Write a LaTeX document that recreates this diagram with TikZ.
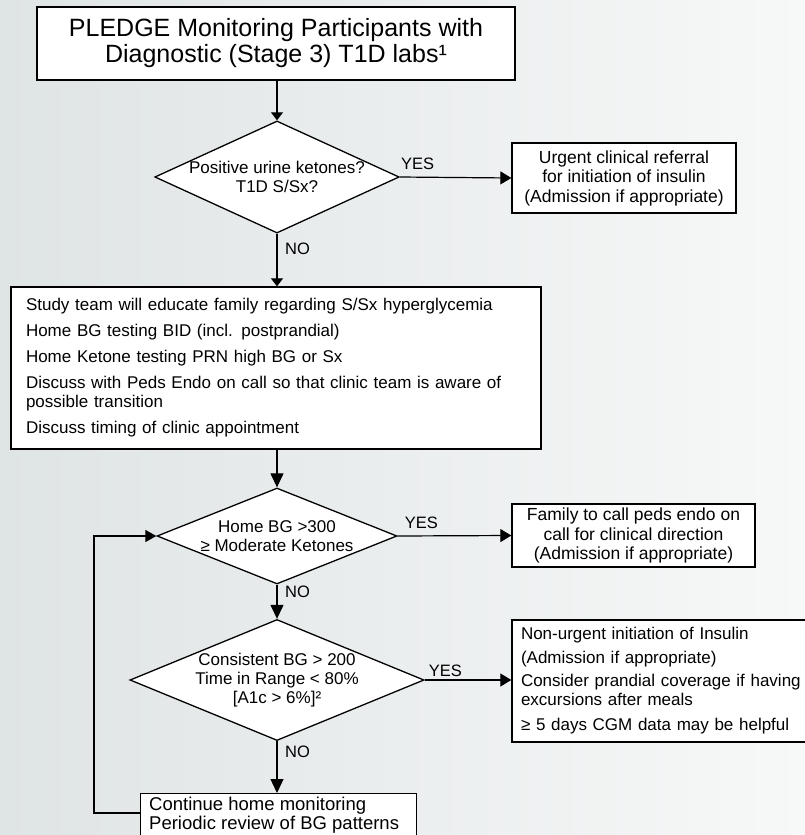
\documentclass[tikz,border=0pt]{standalone}
\usepackage{fontspec}
\setmainfont{Liberation Sans}
\usetikzlibrary{shapes.geometric,arrows.meta,calc}

\definecolor{bgleft}{RGB}{223,228,229}
\definecolor{bgright}{RGB}{247,248,248}

\tikzset{
  box/.style={draw=black, line width=1.3pt, fill=white, rectangle, inner sep=0pt},
  decision/.style={draw=black, line width=1.3pt, fill=white, diamond, inner sep=0pt,
    align=center, font=\fontsize{17}{19}\selectfont},
  bodytext/.style={font=\fontsize{17}{19}\selectfont},
  boxtext/.style={font=\fontsize{17.5}{19.5}\selectfont},
  lbl/.style={font=\fontsize{16.5}{18}\selectfont, inner sep=0pt},
  conn/.style={line width=1.2pt},
  arrsmall/.style={conn, -{Triangle[length=8pt,width=12pt]}},
  arryes/.style={conn, -{Triangle[length=11pt,width=13pt]}},
  arrbig/.style={conn, -{Triangle[length=14pt,width=13pt]}},
  arrloop/.style={conn, -{Triangle[length=11pt,width=12pt]}},
}

\begin{document}
\begin{tikzpicture}[x=1pt,y=-1pt]
  % page area and soft background
  \useasboundingbox (0,0) rectangle (805,835);
  \clip (0,0) rectangle (805,835);
  \shade[left color=bgleft, right color=bgright] (0,0) rectangle (805,835);

  % title box
  \node[box, minimum width=478pt, minimum height=73pt, align=center,
        font=\fontsize{25}{26}\selectfont] (start) at (276,43.5)
    {PLEDGE Monitoring Participants with\\Diagnostic (Stage 3) T1D labs¹};

  % first decision
  \node[decision, shape aspect=2.18, minimum width=240pt, minimum height=110pt] (d1) at (277,177)
    {Positive urine ketones?\\T1D S/Sx?};
  \node[box, minimum width=224pt, minimum height=70pt, align=center, boxtext] (urgent) at (624,178)
    {Urgent clinical referral\\for initiation of insulin\\(Admission if appropriate)};

  % education box
  \node[box, minimum width=530pt, minimum height=162pt, align=left, bodytext,
        text width=500pt] (educ) at (276,368)
    {Study team will educate family regarding S/Sx hyperglycemia\\[7pt]
     Home BG testing BID (incl. postprandial)\\[7pt]
     Home Ketone testing PRN high BG or Sx\\[7pt]
     Discuss with Peds Endo on call so that clinic team is aware of\\
     possible transition\\[7pt]
     Discuss timing of clinic appointment};

  % second decision
  \node[decision, shape aspect=2.5, minimum width=240pt, minimum height=96pt] (d2) at (277,536)
    {Home BG >300\\≥ Moderate Ketones};
  \node[box, minimum width=243pt, minimum height=63pt, align=center, boxtext] (family) at (633.5,535.5)
    {Family to call peds endo on\\call for clinical direction\\(Admission if appropriate)};

  % third decision
  \node[decision, shape aspect=2.43, minimum width=280pt, minimum height=115pt] (d3) at (277,680)
    {Consistent BG > 200\\Time in Range < 80\%\\{}[A1c > 6\%]²};
  \node[box, minimum width=318pt, minimum height=122pt, align=left, bodytext,
        text width=300pt] (insulin) at (671,681)
    {Non-urgent initiation of Insulin\\[5pt]
     (Admission if appropriate)\\[4pt]
     Consider prandial coverage if having\\
     excursions after meals\\[6pt]
     ≥ 5 days CGM data may be helpful};

  % continue monitoring box
  \node[box, minimum width=276pt, minimum height=56pt, anchor=north west] (cont) at (140,793) {};
  \node[anchor=north west, align=left, font=\fontsize{18.5}{19}\selectfont, inner sep=0pt]
    (conttext) at (149,797)
    {Continue home monitoring\\Periodic review of BG patterns};

  % connectors
  \draw[arrsmall] (start.south -| d1.north) -- (d1.north);
  \draw[arryes] (d1.east) -- (urgent.west);
  \draw[arrsmall] (d1.south) -- (educ.north -| d1.south);
  \draw[arrbig] (educ.south -| d2.north) -- (d2.north);
  \draw[arryes] (d2.east) -- (family.west);
  \draw[arrbig] (d2.south) -- (d3.north);
  \draw[arryes] (d3.east) -- (insulin.west |- d3.east);
  \draw[arrbig] (d3.south) -- (cont.north -| d3.south);
  \draw[arrloop] ($(cont.north west)+(0,20)$) -- ++(-46,0) |- (d2.west);

  % branch labels
  \node[lbl, anchor=south west] (y1) at ($(d1.east)+(1,-7)$) {YES};
  \node[lbl, anchor=north west] (n1) at ($(d1.south)+(8,9)$) {NO};
  \node[lbl, anchor=south west] (y2) at ($(d2.east)+(7,-7)$) {YES};
  \node[lbl, anchor=north west] (n2) at ($(d2.south)+(8,1)$) {NO};
  \node[lbl, anchor=south west] (y3) at ($(d3.east)+(4,-3)$) {YES};
  \node[lbl, anchor=north west] (n3) at ($(d3.south)+(8,5)$) {NO};
\end{tikzpicture}
\end{document}
